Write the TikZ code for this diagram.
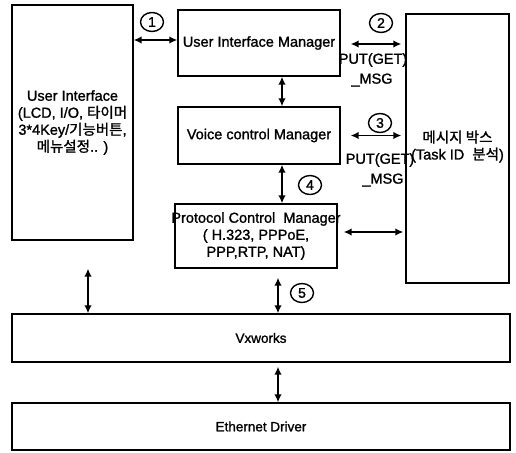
\documentclass[tikz,border=0pt]{standalone}
\usepackage{fontspec}
\setmainfont{Liberation Sans}[FakeBold=1.3]
\newfontfamily\kr{Noto Sans CJK KR}[FakeBold=1.3]
\usetikzlibrary{arrows.meta,shapes.geometric}
\begin{document}
\begin{tikzpicture}[x=1pt,y=-1pt,
  box/.style={draw,line width=1.4pt,inner sep=0pt},
  lbl/.style={align=center,font=\fontsize{14.5}{17}\selectfont,inner sep=0pt},
  num/.style={draw,ellipse,line width=1.4pt,minimum width=23pt,minimum height=19pt,inner sep=0pt,font=\fontsize{14}{14}\selectfont},
  biarr/.style={{Latex[length=8pt,width=7.5pt]}-{Latex[length=8pt,width=7.5pt]},line width=1.8pt}]
\useasboundingbox (0,0) rectangle (516,452);
% boxes
\node[box,minimum width=121pt,minimum height=235pt] (ui) at (72.5,122.5) {};
\node[box,minimum width=162pt,minimum height=66pt] (uim) at (259,43) {};
\node[box,minimum width=162pt,minimum height=57pt] (vcm) at (259,135.5) {};
\node[box,minimum width=162pt,minimum height=64pt] (pcm) at (256,236) {};
\node[box,minimum width=103pt,minimum height=269pt] (msg) at (457.5,148.5) {};
\node[box,minimum width=498pt,minimum height=48pt] (vx) at (261,338) {};
\node[box,minimum width=498pt,minimum height=47pt] (eth) at (261,426.5) {};
% texts
\node[lbl] (uit) at (ui) {User Interface\\(LCD, I/O, {\kr 타이머}\\3*4Key/{\kr 기능버튼},\\{\kr 메뉴설정}.. )};
\node[lbl] (uimt) at (uim) {User Interface Manager};
\node[lbl] (vcmt) at (vcm) {Voice control Manager};
\node[lbl] (pcmt) at (pcm) {Protocol Control\ \ Manager\\( H.323, PPPoE,\\PPP,RTP, NAT)};
\node[lbl] (msgt) at ([yshift=2pt]msg.center) {{\kr 메시지 박스}\\(Task ID\ \ {\kr 분석})};
\node[lbl,font=\fontsize{13.5}{16}\selectfont] (vxt) at (vx) {Vxworks};
\node[lbl,font=\fontsize{13.5}{16}\selectfont] (etht) at (eth) {Ethernet Driver};
\node[lbl] (p1) at (373,60) {PUT(GET)};
\node[lbl] (m1) at (372,80) {\_MSG};
\node[lbl] (p2) at (380,160) {PUT(GET)};
\node[lbl] (m2) at (383,180) {\_MSG};
% numbers
\node[num] (c1) at (152,22) {1};
\node[num] (c2) at (381,23) {2};
\node[num] (c3) at (380,123) {3};
\node[num] (c4) at (310,185) {4};
\node[num] (c5) at (302,293) {5};
% connectors
\draw[biarr] ([yshift=3pt]uim.west -| ui.east) -- ([yshift=3pt]uim.west);
\draw[biarr,shorten <=10pt,shorten >=4pt] ([yshift=-1pt]uim.east) -- ([yshift=-1pt]uim.east -| msg.west);
\draw[biarr,shorten <=10pt,shorten >=4pt] (vcm.east) -- (vcm.east -| msg.west);
\draw[biarr,shorten <=6pt,shorten >=2pt] ([yshift=4pt]pcm.east) -- ([yshift=4pt]pcm.east -| msg.west);
\draw[biarr] ([xshift=23pt]uim.south) -- ([xshift=23pt]vcm.north);
\draw[biarr] ([xshift=23pt]vcm.south) -- ([xshift=26pt]pcm.north);
\draw[biarr,shorten <=9pt] ([xshift=22pt]pcm.south) -- ([xshift=22pt]pcm.south |- vx.north);
\draw[biarr,shorten <=28pt] ([xshift=15.5pt]ui.south) -- ([xshift=15.5pt]ui.south |- vx.north);
\draw[biarr,shorten <=4pt] ([xshift=17pt]vx.south) -- ([xshift=17pt]eth.north);
\end{tikzpicture}
\end{document}
